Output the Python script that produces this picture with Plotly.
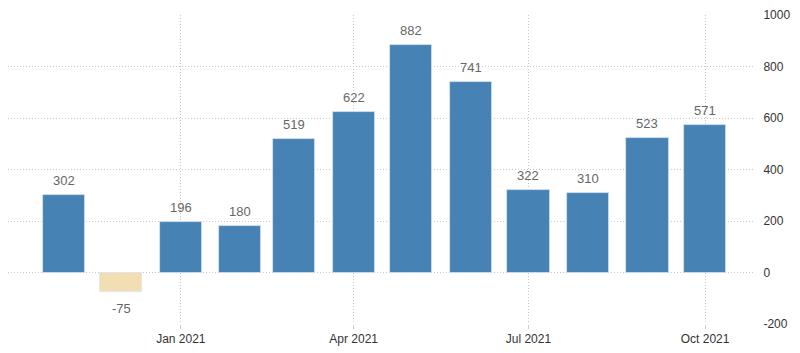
import plotly.graph_objects as go

months = ["2020-11-01", "2020-12-01", "2021-01-01", "2021-02-01", "2021-03-01", "2021-04-01",
          "2021-05-01", "2021-06-01", "2021-07-01", "2021-08-01", "2021-09-01", "2021-10-01"]
values = [302, -75, 196, 180, 519, 622, 882, 741, 322, 310, 523, 571]
tick_dates = ["2021-01-01", "2021-04-01", "2021-07-01", "2021-10-01"]
tick_labels = ["Jan 2021", "Apr 2021", "Jul 2021", "Oct 2021"]
y_ticks = [-200, 0, 200, 400, 600, 800, 1000]
y_tick_labels = ["-200", "0", "200", "400", "600", "800", "1000"]

colors = ["#4682b4" if v >= 0 else "#f3ddb3" for v in values]

fig = go.Figure()
fig.add_trace(go.Bar(
    x=months, y=values,
    width=22 * 86400000,
    marker=dict(color=colors, line=dict(color="#d8e6f2", width=0.8)),
    hoverinfo="skip",
))

for d, v in zip(months, values):
    fig.add_annotation(
        x=d, y=v, text=str(v), showarrow=False,
        yanchor="bottom" if v >= 0 else "top",
        yshift=5 if v >= 0 else -7,
        font=dict(family="Liberation Sans, Arial", size=13, color="#666666"),
    )

fig.update_layout(
    width=800, height=353,
    margin=dict(l=8, r=45, t=15, b=29),
    plot_bgcolor="white", paper_bgcolor="white",
    showlegend=False,
    bargap=0,
)
fig.update_xaxes(
    type="date",
    range=["2020-10-03", "2021-10-27"],
    tickvals=tick_dates, ticktext=tick_labels,
    showgrid=True, gridcolor="#c8c8c8", griddash="1px,2px", gridwidth=1,
    ticks="outside", ticklen=4, tickcolor="#cccccc",
    tickfont=dict(family="Liberation Sans, Arial", size=12, color="#333333"),
    showline=False, zeroline=False,
)
fig.update_yaxes(
    side="right",
    range=[-200, 1000],
    tickvals=y_ticks, ticktext=y_tick_labels,
    showgrid=True, gridcolor="#c8c8c8", griddash="1px,2px", gridwidth=1,
    zeroline=False, showline=False,
    ticks="outside", ticklen=5, tickcolor="rgba(0,0,0,0)",
    tickfont=dict(family="Liberation Sans, Arial", size=12, color="#333333"),
)

fig.write_html("out.html")
